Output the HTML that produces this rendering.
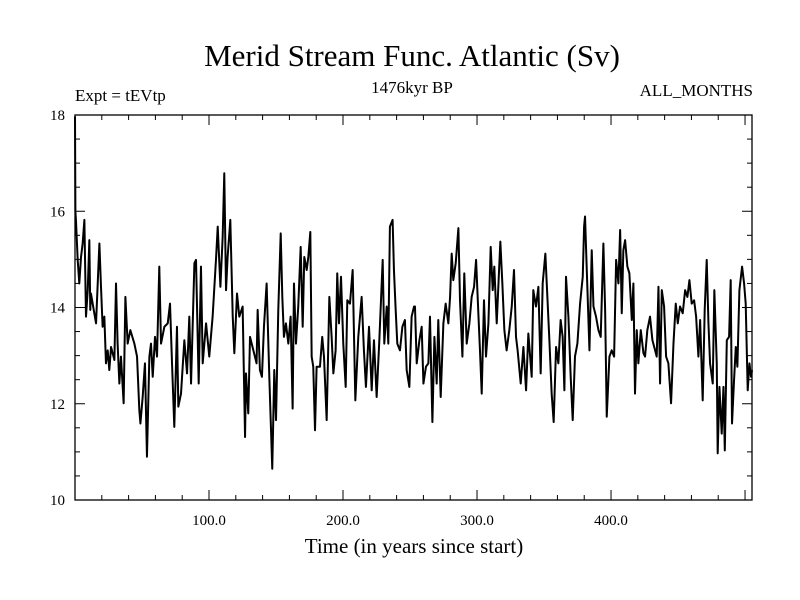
<!DOCTYPE html>
<html><head><meta charset="utf-8">
<style>
html,body{margin:0;padding:0;background:#fff;}
svg{display:block;font-family:"Liberation Serif",serif;}
</style></head>
<body>
<svg id="chart" width="800" height="600" viewBox="0 0 800 600">
<rect x="0" y="0" width="800" height="600" fill="#fff"/>
<text x="412" y="66" font-size="31" text-anchor="middle">Merid Stream Func. Atlantic (Sv)</text>
<text x="75" y="101" font-size="17">Expt = tEVtp</text>
<text x="412" y="93" font-size="17" text-anchor="middle">1476kyr BP</text>
<text x="753" y="96" font-size="17" text-anchor="end">ALL_MONTHS</text>
<text x="414" y="553" font-size="21" text-anchor="middle">Time (in years since start)</text>
<g id="axes"></g>
<g id="marks"></g>
</svg>
<script>
const years = [0,0.3,0.7,2.0,3.2,4.5,5.7,7.0,8.2,9.5,10.7,11.4,11.9,13.2,15.7,18.2,19.4,20.6,21.9,23.1,24.4,25.6,26.9,29.4,30.6,31.8,33.1,34.3,36.3,37.6,39.3,41.3,44.3,46.3,48.0,48.8,50.5,52.2,53.7,55.5,56.7,58.0,59.7,61.2,62.9,64.2,66.7,69.2,70.9,72.4,74.1,76.1,77.1,79.1,81.6,83.6,85.3,86.6,89.1,90.3,92.3,94.0,95.3,97.8,100.2,102.7,105.2,106.5,108.5,110.2,111.4,112.7,113.9,115.9,117.7,118.9,120.9,122.6,125.1,126.9,
127.6,129.3,130.6,133.1,135.5,136.3,138.0,139.5,141.0,143.0,145.0,147.2,148.7,150.0,151.7,153.5,154.7,155.9,157.4,159.2,160.9,162.4,163.4,164.9,166.6,168.4,169.9,171.1,172.9,174.1,175.6,176.6,177.8,179.1,180.3,182.8,184.5,185.8,187.8,189.8,191.5,192.8,194.5,195.7,197.0,198.5,200.2,202.0,203.2,205.2,207.2,209.2,211.4,213.9,215.6,217.1,219.4,221.4,223.1,225.1,227.1,229.6,230.8,232.6,233.8,235.0,237.0,238.0,239.3,240.5,242.5,244.3,246.2,247.5,249.5,251.2,253.0,
253.7,255.0,257.0,258.7,260.0,261.9,263.7,264.9,266.7,268.2,269.9,271.1,272.9,274.9,276.6,278.6,279.9,281.1,282.3,284.1,286.1,287.3,289.1,290.5,292.3,294.3,296.0,297.8,299.3,301.0,302.2,303.5,305.2,306.7,308.5,310.2,311.7,312.9,314.7,315.9,317.4,318.9,320.4,322.1,324.1,325.9,327.6,329.1,330.3,332.6,334.6,336.6,338.3,340.8,342.0,344.0,345.8,347.5,349.0,351.0,352.5,354.0,355.7,357.2,359.0,360.7,362.4,363.9,365.2,366.4,368.2,369.9,371.4,373.1,374.9,376.9,378.9,379.9,
380.6,381.9,383.9,385.6,386.9,388.8,390.6,392.3,394.3,395.6,396.8,398.8,400.5,402.3,403.8,405.5,406.8,408.0,409.2,410.5,412.2,413.7,415.5,416.7,417.9,419.2,420.4,422.2,424.2,425.4,427.1,429.1,430.9,432.9,434.1,435.4,436.6,437.9,439.6,441.1,442.8,444.8,446.6,448.3,449.8,451.5,453.5,455.3,457.0,458.5,460.2,462.0,463.5,465.2,466.5,468.4,469.9,471.4,472.7,473.9,475.9,477.1,478.9,479.6,480.9,482.6,483.9,484.9,486.4,488.1,489.3,490.3,491.8,493.1,494.3,495.8,497.8,499.3,500.5,502.0,503.3,504.5,505.2];
const values = [17.97,16.0,15.82,14.99,14.50,15.05,15.33,15.82,13.81,14.36,15.40,13.95,14.29,14.08,13.67,15.33,14.43,13.60,13.81,12.84,13.11,12.70,13.18,12.91,14.50,13.25,12.42,12.98,12.01,14.22,13.25,13.53,13.25,12.98,11.87,11.59,12.14,12.84,10.90,12.98,13.25,12.56,13.39,12.98,14.85,13.25,13.60,13.67,14.08,12.84,11.52,13.60,11.94,12.21,13.32,12.63,13.81,12.42,14.92,14.99,12.42,14.85,12.84,13.67,12.98,13.81,14.99,15.68,14.43,15.47,16.79,14.36,15.05,15.82,13.81,13.05,14.29,13.81,14.02,11.31,
12.63,11.80,13.39,13.11,12.84,13.95,12.70,12.56,13.60,14.50,12.56,10.65,12.70,11.66,13.95,15.54,14.22,13.39,13.67,13.25,13.81,11.90,14.50,13.25,14.02,15.26,13.60,15.05,14.78,15.05,15.57,12.98,12.77,11.45,12.77,12.77,13.39,12.98,11.66,14.22,13.39,12.63,13.11,14.71,13.67,14.64,13.25,12.35,14.15,14.08,14.78,12.07,13.39,14.22,13.11,12.35,13.60,12.28,13.32,12.14,13.32,14.99,13.25,14.02,13.25,15.68,15.82,14.78,13.95,13.25,13.11,13.60,13.74,12.70,12.35,13.81,14.02,
14.02,12.84,13.32,13.60,12.42,12.77,12.84,13.81,11.62,13.39,12.42,13.74,12.14,13.67,14.08,13.67,14.22,15.12,14.57,14.92,15.65,14.15,12.98,14.71,13.25,13.67,14.22,14.43,14.99,13.88,13.11,12.21,14.15,12.98,13.67,15.26,14.36,14.85,13.67,14.43,15.37,14.50,13.53,13.11,13.53,14.02,14.78,13.39,13.11,12.42,13.18,12.28,13.46,12.56,14.36,14.02,14.43,12.63,14.50,15.12,14.22,13.32,12.21,11.62,13.18,12.84,13.74,13.39,12.28,14.64,13.81,12.56,11.66,12.98,13.25,14.08,14.64,15.68,
15.89,14.78,13.11,15.19,14.02,13.81,13.53,13.39,15.33,13.95,11.73,12.98,13.11,12.98,14.99,14.50,15.61,13.88,15.19,15.40,14.85,14.71,13.74,14.50,12.21,13.53,12.84,13.53,13.05,12.98,13.53,13.81,13.32,13.11,12.98,14.43,12.42,14.36,14.02,12.98,12.84,12.01,13.25,14.08,13.67,14.02,13.88,14.36,14.22,14.57,14.08,14.15,13.81,12.98,13.74,12.07,13.95,14.99,13.67,12.84,12.42,14.36,12.84,10.97,12.35,11.38,12.35,11.03,13.32,13.39,14.57,11.59,12.49,13.18,12.77,14.36,14.85,14.50,14.08,12.28,12.84,12.56,12.70];
const xTickValues = [100,200,300,400];
const xTickLabels = ["100.0","200.0","300.0","400.0"];
const yTickValues = [10,12,14,16,18];
const yTickLabels = ["10","12","14","16","18"];

const NS = "http://www.w3.org/2000/svg";
const L = 75, R = 752, T = 115, B = 500;
const xMin = 0, xMax = 505.2, yMin = 10, yMax = 18;
function xs(v){ return L + (v - xMin) / (xMax - xMin) * (R - L); }
function ys(v){ return B - (v - yMin) / (yMax - yMin) * (B - T); }
function mk(tag, attrs, parent){ const e = document.createElementNS(NS, tag); for (const k in attrs) e.setAttribute(k, attrs[k]); parent.appendChild(e); return e; }

const axes = document.getElementById("axes");
const frame = mk("rect", {x:L, y:T, width:R-L, height:B-T, fill:"none", stroke:"#000", "stroke-width":1.3}, axes);



// minor x ticks every 20 years, major every 100
for (let v = 20; v < xMax; v += 20) {
  const major = v % 100 === 0;
  const len = major ? 10 : 5;
  const x = xs(v);
  const tb = mk("line", {x1:x, x2:x, y1:B, y2:B-len, stroke:"#000", "stroke-width":1}, axes);
  
  
  const tt = mk("line", {x1:x, x2:x, y1:T, y2:T+len, stroke:"#000", "stroke-width":1}, axes);
  
  
}
xTickValues.forEach((v, i) => {
  const t = mk("text", {x:xs(v), y:B+25, "font-size":15, "text-anchor":"middle"}, axes);
  t.textContent = xTickLabels[i];
  
  
});
// y ticks every 0.5, major every 2
for (let v = 10.5; v < 18; v += 0.5) {
  const major = Math.abs(v % 2) < 1e-9;
  const len = major ? 10 : 5;
  const y = ys(v);
  const tl = mk("line", {x1:L, x2:L+len, y1:y, y2:y, stroke:"#000", "stroke-width":1}, axes);
  
  
  const tr = mk("line", {x1:R, x2:R-len, y1:y, y2:y, stroke:"#000", "stroke-width":1}, axes);
  
  
}
yTickValues.forEach((v, i) => {
  const t = mk("text", {x:L-10, y:ys(v)+5, "font-size":15, "text-anchor":"end"}, axes);
  t.textContent = yTickLabels[i];
  
  
});

const marks = document.getElementById("marks");
let d = "";
years.forEach((yr, i) => { d += (i ? "L" : "M") + xs(yr).toFixed(2) + "," + ys(values[i]).toFixed(2); });
const line = mk("path", {d:d, fill:"none", stroke:"#000", "stroke-width":2, "stroke-linejoin":"round"}, marks);


</script>
</body></html>
